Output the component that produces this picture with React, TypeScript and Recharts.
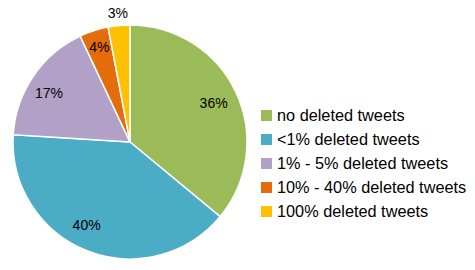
import React from "react";
import { PieChart, Pie, Cell, Legend } from "recharts";

const categories = [
  "no deleted tweets",
  "<1% deleted tweets",
  "1% - 5% deleted tweets",
  "10% - 40% deleted tweets",
  "100% deleted tweets",
];
const shares = [36, 40, 17, 4, 3];
const colors = ["#9BBB59", "#4BACC6", "#B2A1C7", "#E46C0A", "#FFC000"];

const data = categories.map((name, i) => ({ name, value: shares[i] }));

const RAD = Math.PI / 180;
const labelRadiusFactors = [0.79, 0.8, 0.81, 0.85, 1.11];
const labelAngleShift = [0, -6, 3, 0, 0];

const renderLabel = (props: any) => {
  const { cx, cy, midAngle, outerRadius, value, index } = props;
  const r = outerRadius * labelRadiusFactors[index];
  const a = midAngle + labelAngleShift[index];
  const x = cx + r * Math.cos(-a * RAD);
  const y = cy + r * Math.sin(-a * RAD);
  return (
    <text
      x={x}
      y={y}
      textAnchor="middle"
      dominantBaseline="central"
      fontSize={14}
      fill="#000"
      fontFamily="'Liberation Sans', Arial, sans-serif"
    >
      {value}%
    </text>
  );
};

const renderLegend = () => (
  <div style={{ fontFamily: "'Liberation Sans', Arial, sans-serif", fontSize: 16.3 }}>
    {categories.map((c, i) => (
      <div
        key={c}
        style={{ display: "flex", alignItems: "center", height: 23.8, whiteSpace: "nowrap" }}
      >
        <span
          style={{
            display: "inline-block",
            width: 11,
            height: 11,
            background: colors[i],
            marginRight: 5,
          }}
        />
        <span style={{ color: "#000" }}>{c}</span>
      </div>
    ))}
  </div>
);

export default function App() {
  return (
    <div style={{ position: "absolute", left: 0, top: 0, background: "#fff" }}>
      <PieChart width={475} height={270}>
        <Pie
          data={data}
          dataKey="value"
          cx={125}
          cy={137}
          outerRadius={117}
          startAngle={90}
          endAngle={-270}
          stroke="#fff"
          strokeWidth={1.5}
          label={renderLabel}
          labelLine={false}
          isAnimationActive={false}
        >
          {data.map((d, i) => (
            <Cell key={d.name} fill={colors[i]} />
          ))}
        </Pie>
        <Legend
          content={renderLegend}
          wrapperStyle={{ left: 261, top: 104, width: 214 }}
        />
      </PieChart>
    </div>
  );
}
